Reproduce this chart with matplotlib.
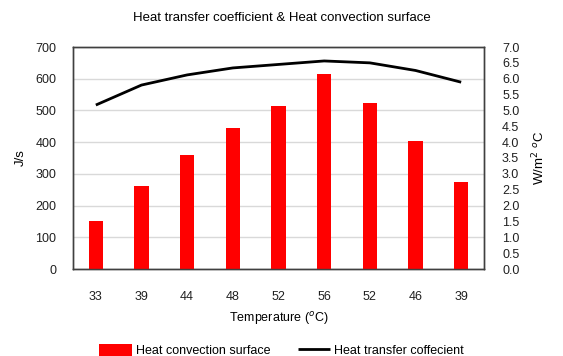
import numpy as np
import matplotlib.pyplot as plt

plt.rcParams['font.family'] = ['Liberation Sans', 'DejaVu Sans']

temps = ['33', '39', '44', '48', '52', '56', '52', '46', '39']
convection = [151, 263, 359, 444, 514, 615, 525, 404, 273]       # J/s
coefficient = [5.17, 5.80, 6.12, 6.34, 6.45, 6.56, 6.50, 6.26, 5.89]  # W/m2 C

fig = plt.figure(figsize=(5.63, 3.56), dpi=100)
ax = fig.add_axes([73 / 563, 1 - 269 / 356, 411 / 563, 222 / 356])
ax2 = ax.twinx()

x = np.arange(len(temps))
bars = ax.bar(x, convection, width=0.31, color='#ff0000', zorder=3,
              label='Heat convection surface')
line, = ax2.plot(x, coefficient, color='black', lw=2, solid_capstyle='butt',
                 label='Heat transfer coffecient')

ax.set_xlim(-0.5, len(temps) - 0.5)
ax.set_ylim(0, 700)
ax.set_yticks(np.arange(0, 701, 100))
ax2.set_ylim(0, 7)
ax2.set_yticks(np.arange(0, 7.01, 0.5))
ax2.set_yticklabels([f'{v:.1f}' for v in np.arange(0, 7.01, 0.5)])

ax.set_xticks(x)
ax.set_xticklabels(temps)
ax.yaxis.grid(True, color='#d9d9d9', lw=1, zorder=0)
ax.set_axisbelow(True)

for a in (ax, ax2):
    for s in a.spines.values():
        s.set_color('#404040')
        s.set_linewidth(1)
    a.tick_params(length=0, labelsize=9, colors='#202020')
ax.tick_params(axis='x', pad=16)
ax.tick_params(axis='y', pad=12)
ax2.tick_params(axis='y', pad=13)

ax.set_ylabel('J/s', fontsize=9.5, labelpad=6)
ax2.set_ylabel('W/m$^2$ $^o$C', fontsize=9.5, labelpad=8)
ax.set_xlabel('Temperature ($^o$C)', fontsize=9, labelpad=5)

fig.suptitle('Heat transfer coefficient & Heat convection surface',
             fontsize=9.5, y=0.965)

fig.legend(handles=[bars, line], loc='lower center', ncol=2, frameon=False,
           fontsize=9, bbox_to_anchor=(0.5, -0.035), handlelength=2.6,
           handleheight=1.2, columnspacing=2.2, handletextpad=0.3)

fig.savefig('out.png', dpi=100)
